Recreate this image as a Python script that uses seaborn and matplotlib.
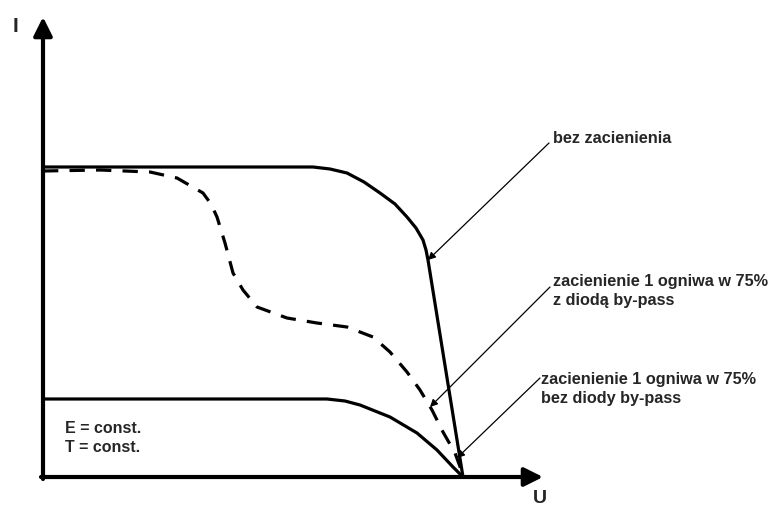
import numpy as np
import pandas as pd
import matplotlib
matplotlib.use("Agg")
import matplotlib.pyplot as plt
import seaborn as sns

sns.set_style("white")
plt.rcParams['font.family'] = ['Liberation Sans', 'DejaVu Sans']

# charakterystyki I-U (jednostki umowne)
u_bez = [0, 270, 287, 304, 321, 337, 352, 364, 373, 380, 383, 385, 420]
i_bez = [310, 310, 308, 304, 295, 284, 273, 260, 249, 237, 227, 217, 0]

u_dioda = [0, 57, 107, 134, 160, 168, 174, 182, 190, 200, 214, 244, 274, 304,
           330, 347, 364, 377, 389, 400, 412, 420]
i_dioda = [306, 307, 305, 299, 284, 273, 260, 234, 204, 187, 170, 159, 154, 150,
           140, 125, 105, 87, 67, 45, 24, 2]

u_bez_diody = [0, 284, 302, 317, 347, 374, 394, 410, 420]
i_bez_diody = [78, 78, 76, 72, 60, 44, 27, 10, 0]

labels = ["bez zacienienia",
          "zacienienie 1 ogniwa w 75%\nz diodą by-pass",
          "zacienienie 1 ogniwa w 75%\nbez diody by-pass"]
label_pos = [(510, 346), (510, 203), (498, 105)]
arrow_from = [(506, 334), (507, 190), (497, 99)]
arrow_to = [(385, 217), (387, 70), (414, 19)]

fig = plt.figure(figsize=(7.73, 5.07), dpi=100)
ax = fig.add_axes([0, 0, 1, 1])
ax.set_xlim(-43, 730)
ax.set_ylim(-30, 477)
ax.axis('off')

lw = 2.3
sns.lineplot(x=u_bez, y=i_bez, sort=False, color='black', lw=lw, ax=ax)
sns.lineplot(x=u_bez_diody, y=i_bez_diody, sort=False, color='black', lw=lw, ax=ax)
ax.plot(u_dioda, i_dioda, color='black', lw=lw, dashes=(4.8, 3.5))

# osie
ax.annotate('', xy=(0, 460), xytext=(0, -2),
            arrowprops=dict(arrowstyle='-|>', lw=3, color='black',
                            mutation_scale=28, shrinkA=0, shrinkB=0))
ax.annotate('', xy=(500, 0), xytext=(-2, 0),
            arrowprops=dict(arrowstyle='-|>', lw=3, color='black',
                            mutation_scale=28, shrinkA=0, shrinkB=0))
ax.text(-28, 451, 'I', fontsize=15, fontweight='bold', ha='center', va='center')
ax.text(497, -13, 'U', fontsize=14, fontweight='bold', ha='center', va='top')

for txt, pos, a, b in zip(labels, label_pos, arrow_from, arrow_to):
    ax.text(pos[0], pos[1], txt, fontsize=11.7, fontweight='bold',
            ha='left', va='top', linespacing=1.32)
    ax.annotate('', xy=b, xytext=a,
                arrowprops=dict(arrowstyle='-|>', lw=0.9, color='black',
                                mutation_scale=11, shrinkA=0, shrinkB=0))

ax.text(22, 56, 'E = const.\nT = const.', fontsize=11.5, fontweight='bold',
        ha='left', va='top', linespacing=1.3)

fig.savefig('out.png', dpi=100)
